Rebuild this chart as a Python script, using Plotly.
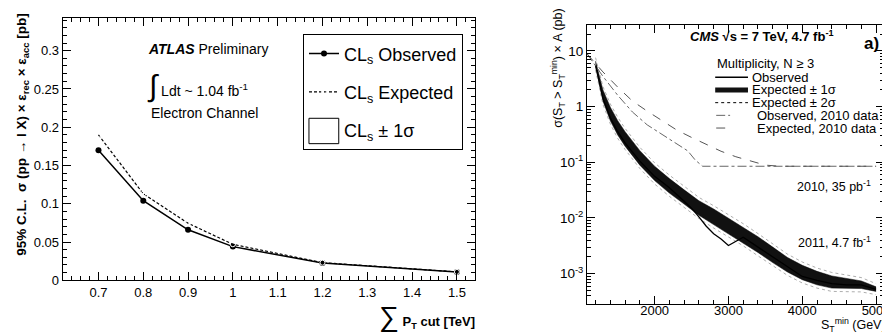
import plotly.graph_objects as go

W, H = 890, 333
FONT = "Liberation Sans"

# ---------------- Left panel data (ATLAS) ----------------
pt_cut = [0.7, 0.8, 0.9, 1.0, 1.2, 1.5]
cls_observed = [0.170, 0.104, 0.066, 0.044, 0.0225, 0.011]
cls_expected = [0.190, 0.113, 0.0745, 0.047, 0.023, 0.011]

# ---------------- Right panel data (CMS) ----------------
st_exp = [1200, 1300, 1400, 1500, 1600, 1800, 2000, 2200, 2400, 2600, 2800,
          3000, 3200, 3400, 3600, 3800, 4000, 4200, 4400, 4600, 4800, 5000]
exp_1s_hi = [6.61, 2.0, 0.98, 0.56, 0.355, 0.162, 0.085, 0.051, 0.032, 0.0204, 0.0145,
             0.010, 0.0069, 0.0046, 0.0030, 0.00195, 0.00141, 0.0011, 0.00091, 0.00081, 0.00074, 0.00058]
exp_1s_lo = [5.25, 1.26, 0.56, 0.31, 0.195, 0.089, 0.047, 0.028, 0.0178, 0.0112, 0.0076,
             0.0052, 0.0036, 0.0024, 0.00158, 0.00107, 0.00078, 0.00063, 0.00055, 0.00054, 0.00054, 0.00048]
exp_2s_hi = [7.59, 2.29, 1.12, 0.646, 0.407, 0.186, 0.0977, 0.0589, 0.0372, 0.0234, 0.0166,
             0.0115, 0.0079, 0.00525, 0.00347, 0.00224, 0.00162, 0.00126, 0.00105, 0.00093, 0.00085, 0.00066]
exp_2s_lo = [4.57, 1.10, 0.49, 0.269, 0.170, 0.0776, 0.0407, 0.0245, 0.0155, 0.0098, 0.0066,
             0.00457, 0.00316, 0.00209, 0.00138, 0.00093, 0.00068, 0.00055, 0.00048, 0.00047, 0.00047, 0.00042]

st_obs = [1200, 1300, 1400, 1500, 1600, 1800, 2000, 2200, 2400, 2500, 2600, 2700, 2800,
          2900, 3000, 3100, 3200, 3400, 3600, 3800, 4000, 4200, 4400, 4600, 4800, 5000]
observed = [5.6, 1.41, 0.63, 0.355, 0.224, 0.105, 0.056, 0.035, 0.020, 0.015, 0.0105, 0.0071, 0.0052,
            0.0042, 0.0032, 0.0038, 0.0045, 0.0030, 0.0020, 0.00132, 0.00089, 0.00076, 0.00066, 0.00063, 0.00063, 0.00052]

st_obs2010 = [1085, 1300, 1500, 1700, 1900, 2100, 2300, 2450, 2550, 2650, 5000]
obs2010 = [8.9, 3.5, 1.6, 0.8, 0.47, 0.32, 0.22, 0.16, 0.11, 0.085, 0.085]

st_exp2010 = [1085, 1300, 1500, 1700, 1900, 2100, 2300, 2500, 2700, 2900, 3100, 3300, 3500, 3700, 4000, 5000]
exp2010 = [8.9, 4.2, 2.24, 1.26, 0.83, 0.56, 0.38, 0.28, 0.21, 0.158, 0.126, 0.105, 0.089, 0.085, 0.085, 0.085]

log_tickvals = [0.001, 0.01, 0.1, 1, 10]
log_ticktext = ["10<sup>-3</sup>", "10<sup>-2</sup>", "10<sup>-1</sup>", "1", "10"]
log_minor = [m * 10 ** e for e in range(-4, 2) for m in range(2, 10)]

fig = go.Figure()

# ---- Left panel traces ----
fig.add_trace(go.Scatter(
    x=pt_cut, y=cls_observed, mode="lines+markers", name="CL<sub>s</sub> Observed",
    line=dict(color="black", width=1.5), marker=dict(color="black", size=6, symbol="circle"),
    legendgroup="g1", xaxis="x", yaxis="y"))
fig.add_trace(go.Scatter(
    x=pt_cut, y=cls_expected, mode="lines+markers", name="CL<sub>s</sub> Expected",
    line=dict(color="black", width=1.2, dash="3px,2px"),
    marker=dict(color="white", size=5, symbol="circle-open", line=dict(color="black", width=1)),
    legendgroup="g2", xaxis="x", yaxis="y"))
# ±1σ entry: its legend box is drawn as a rectangle below (legend background is transparent)
fig.add_trace(go.Scatter(
    x=[None], y=[None], mode="lines", name="CL<sub>s</sub> ± 1σ",
    line=dict(color="rgba(0,0,0,0)", width=1),
    legendgroup="g3", xaxis="x", yaxis="y"))

# ---- Right panel traces ----
fig.add_trace(go.Scatter(x=st_exp, y=exp_1s_lo, mode="lines", line=dict(color="black", width=0.5),
                         showlegend=False, xaxis="x2", yaxis="y2"))
fig.add_trace(go.Scatter(x=st_exp, y=exp_1s_hi, mode="lines", line=dict(color="black", width=0.5),
                         fill="tonexty", fillcolor="#111111", showlegend=False, xaxis="x2", yaxis="y2"))
fig.add_trace(go.Scatter(x=st_exp, y=exp_2s_hi, mode="lines", line=dict(color="#777", width=0.6, dash="dot"),
                         showlegend=False, xaxis="x2", yaxis="y2"))
fig.add_trace(go.Scatter(x=st_exp, y=exp_2s_lo, mode="lines", line=dict(color="#777", width=0.6, dash="dot"),
                         showlegend=False, xaxis="x2", yaxis="y2"))
fig.add_trace(go.Scatter(x=st_obs, y=observed, mode="lines", line=dict(color="black", width=1.3),
                         showlegend=False, xaxis="x2", yaxis="y2"))
fig.add_trace(go.Scatter(x=st_obs2010, y=obs2010, mode="lines", line=dict(color="#666", width=1, dash="dashdot"),
                         showlegend=False, xaxis="x2", yaxis="y2"))
fig.add_trace(go.Scatter(x=st_exp2010, y=exp2010, mode="lines", line=dict(color="#555", width=1, dash="dash"),
                         showlegend=False, xaxis="x2", yaxis="y2"))

axis_common = dict(showline=True, linecolor="black", linewidth=1, mirror="ticks", ticks="inside",
                   tickcolor="black", ticklen=8, showgrid=False, zeroline=False)

fig.update_layout(
    width=W, height=H, autosize=False,
    margin=dict(l=0, r=0, t=0, b=0),
    paper_bgcolor="white", plot_bgcolor="white",
    font=dict(family=FONT, color="black"),
    xaxis=dict(domain=[55 / W, 470 / W], range=[0.62, 1.54], dtick=0.1, tick0=0.7,
               minor=dict(dtick=0.02, ticklen=4, tickcolor="black", ticks="inside"),
               tickfont=dict(family=FONT, size=13, color="black"),
               anchor="y", **axis_common),
    yaxis=dict(domain=[1 - 279 / H, 1 - 10 / H], range=[0, 0.343], dtick=0.05,
               minor=dict(dtick=0.01, ticklen=4, tickcolor="black", ticks="inside"),
               tickfont=dict(family=FONT, size=13, color="black"),
               anchor="x", **axis_common),
    xaxis2=dict(domain=[583 / W, 882 / W], range=[1085, 5108], tickvals=[2000, 3000, 4000, 5000],
                minor=dict(dtick=200, tick0=0, ticklen=4, tickcolor="black", ticks="inside"),
                tickfont=dict(family=FONT, size=13, color="black"), ticklabelstandoff=-5,
                anchor="y2", **axis_common),
    yaxis2=dict(domain=[1 - 303 / H, 1 - 17 / H], type="log", range=[-3.54, 1.474],
                tickvals=log_tickvals, ticktext=log_ticktext,
                minor=dict(tickvals=log_minor, ticklen=4, tickcolor="black", ticks="inside"),
                tickfont=dict(family=FONT, size=13.5, color="black"),
                anchor="x2", **axis_common),
    legend=dict(x=297 / W, y=1 - 27 / H, xanchor="left", yanchor="top",
                bordercolor="black", borderwidth=1, bgcolor="rgba(255,255,255,0)",
                font=dict(family=FONT, size=18, color="black"),
                tracegroupgap=12, itemwidth=30, traceorder="grouped"),
    showlegend=True,
)

ann = []
def A(text, x, y, size=12, xanchor="left", yanchor="middle", angle=0):
    ann.append(dict(text=text, x=x / W, y=1 - y / H, xref="paper", yref="paper",
                    xanchor=xanchor, yanchor=yanchor, showarrow=False, textangle=angle,
                    font=dict(family=FONT, size=size, color="black")))

# left panel texts
A("<b><i>ATLAS</i></b> Preliminary", 139, 42, 14)
A("<span style='font-size:30px'>∫</span> Ldt ~ 1.04 fb<sup>-1</sup>", 138, 80, 14)
A("Electron Channel", 142, 108, 14)
A("<b>95% C.L.  σ (pp → l X) × ε<sub>rec</sub> × ε<sub>acc</sub> [pb]</b>", 15, 129, 13.5,
  xanchor="center", angle=-90)
A("<span style='font-size:28px'>∑</span><b> P<sub>T</sub> cut [TeV]</b>", 472, 316, 13, xanchor="right")

# right panel texts
A("<b><i>CMS</i> √s = 7 TeV, 4.7 fb<sup>-1</sup></b>", 759, 29, 13, xanchor="center")
A("<b>a)</b>", 869, 36, 17, xanchor="center")
A("Multiplicity, N ≥ 3", 712, 57, 13)
A("Observed", 747, 71, 13)
A("Expected ± 1σ", 747, 84, 13)
A("Expected ± 2σ", 747, 97, 13)
A("Observed, 2010 data", 752, 110, 13)
A("Expected, 2010 data", 752, 123, 13)
A("2010, 35 pb<sup>-1</sup>", 871, 182, 12.5, xanchor="right")
A("2011, 4.7 fb<sup>-1</sup>", 871, 240, 12.5, xanchor="right")
A("σ(S<sub>T</sub> > S<sub>T</sub><sup>min</sup>) × A (pb)", 553, 62, 12.5, xanchor="center", angle=-90)
A("S<sub>T</sub><sup>min</sup> (GeV)", 886, 325, 12.5, xanchor="right")
fig.update_layout(annotations=ann)

# left legend: open box for the ±1σ entry
fig.add_shape(type="rect", xref="paper", yref="paper", x0=303 / W, x1=333 / W,
              y0=1 - 139 / H, y1=1 - 113 / H, line=dict(color="black", width=1),
              fillcolor="rgba(0,0,0,0)", layer="above")

# right legend samples (paper-coordinate shapes)
def L(x0, x1, y, dash="solid", width=1.3, color="black"):
    fig.add_shape(type="line", xref="paper", yref="paper", x0=x0 / W, x1=x1 / W,
                  y0=1 - y / H, y1=1 - y / H, line=dict(color=color, width=width, dash=dash))

L(712, 745, 71, "solid", 1.5)
L(712, 745, 84, "solid", 5, "#111")
L(712, 745, 97, "dot", 1)
L(713, 727, 110, "dashdot", 1, "#666")
L(713, 729, 123, "dash", 1, "#555")

fig.write_html("out.html")
